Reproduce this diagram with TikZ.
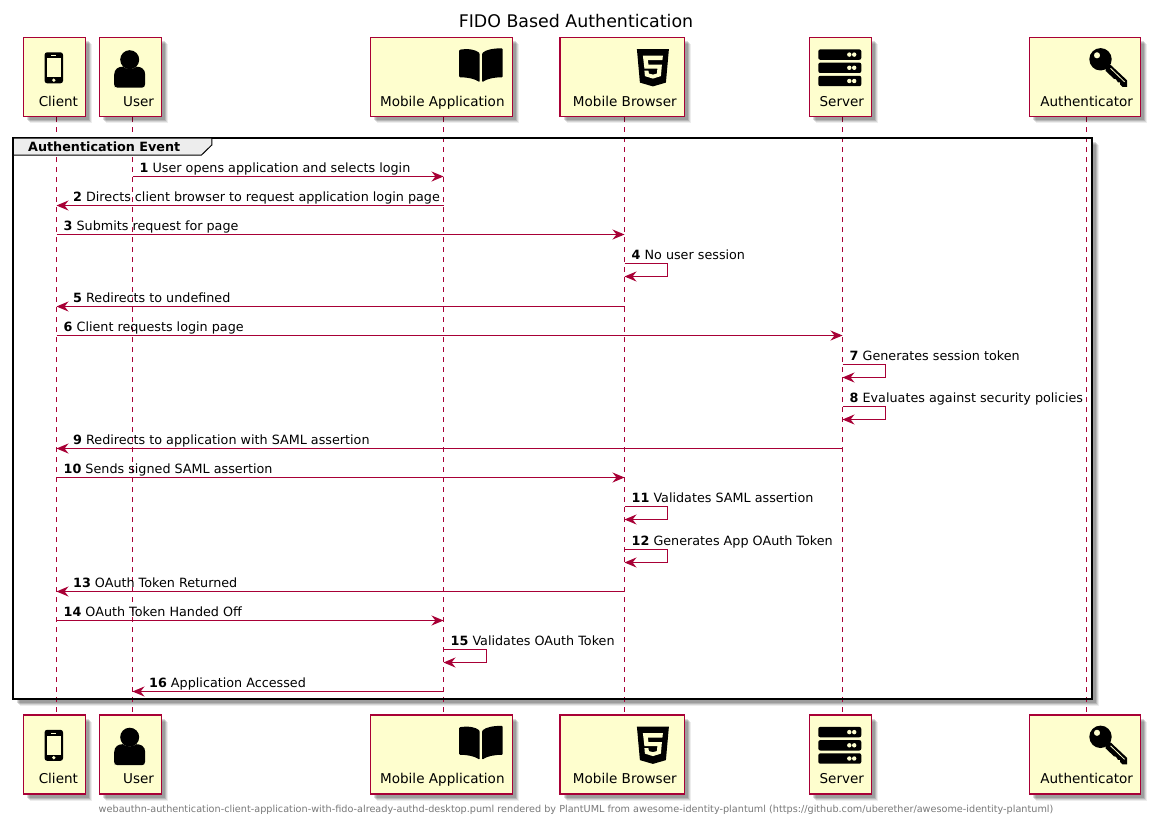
\documentclass[tikz,border=0pt]{standalone}
\usepackage{fontspec}
\setmainfont{DejaVu Sans}
\usetikzlibrary{arrows.meta,shadows}
\definecolor{seqline}{HTML}{A80036}
\definecolor{seqfill}{HTML}{FEFECE}
\tikzset{
	softshadow/.style={drop shadow={shadow xshift=6.5pt,shadow yshift=-6.5pt,fill=black,opacity=0.07},drop shadow={shadow xshift=5.5pt,shadow yshift=-5.5pt,fill=black,opacity=0.1},drop shadow={shadow xshift=4.5pt,shadow yshift=-4.5pt,fill=black,opacity=0.14},drop shadow={shadow xshift=3.5pt,shadow yshift=-3.5pt,fill=black,opacity=0.14}},
	actorbox/.style={draw=seqline,line width=1.5pt,fill=seqfill,softshadow,minimum height=79pt,inner xsep=0pt,inner ysep=7pt,text height=61.8pt,text depth=3.2pt,align=right,font=\fontsize{13.55pt}{15pt}\selectfont},
	lifeline/.style={draw=seqline,line width=1pt,dash pattern=on 5pt off 5pt},
	msgline/.style={draw=seqline,line width=1pt,-{Stealth[length=12pt,width=10pt,inset=4pt]}},
	msglabel/.style={anchor=base west,inner sep=0pt,font=\fontsize{12.75pt}{15pt}\selectfont}
}
\tikzset{
	phoneicon/.pic={
		\fill[black,rounded corners=2.5pt] (-9.2,-15.5) rectangle (9.2,15.5);
		\fill[seqfill] (-7.2,-9.5) rectangle (7.2,9.5);
		\fill[seqfill] (0,12.4) circle (1.8);
		\fill[seqfill] (-2.5,-12.6) rectangle (2.5,-11.9);
	},
	personicon/.pic={
		\fill[black] (0,-8) circle (9.5);
		\fill[black] (-15.5,20) -- (-15.5,7) .. controls (-15.5,1) and (-11,-1) .. (-7,-1) .. controls (-3,2) and (3,2) .. (7,-1) .. controls (11,-1) and (15.5,1) .. (15.5,7) -- (15.5,16) .. controls (15.5,19) and (14,20) .. (12,20) -- (-12,20) .. controls (-14,20) and (-15.5,19) .. (-15.5,16) -- cycle;
	},
	bookicon/.pic={
		\fill[black,rounded corners=1pt] (-21.8,-15.5) .. controls (-12,-17) and (-5,-15.5) .. (-1.2,-12) -- (-1.2,17) .. controls (-6,13.5) and (-13,12) .. (-21.8,12) -- cycle;
		\fill[black,rounded corners=1pt] (21.8,-17) .. controls (12,-17) and (5,-15.5) .. (1.2,-12) -- (1.2,17) .. controls (6,13.5) and (13,12) .. (21.8,12) -- cycle;
	},
	htmlicon/.pic={
		\fill[black] (-16,-18.5) -- (16,-18.5) -- (13,15) -- (0,18.8) -- (-13,15) -- cycle;
		\fill[seqfill] (-10,-12) -- (10,-12) -- (9.5,-7.5) -- (-5,-7.5) -- (-4.5,-3) -- (9,-3) -- (8,8.5) -- (0,11) -- (-8,8.5) -- (-8.5,3) -- (-4.5,3) -- (-4,6) -- (0,7) -- (4,6) -- (4.5,1) -- (-8.5,1) -- cycle;
	},
	servericon/.pic={
		\foreach \rowy in {-13.2,0,13.2}{
			\fill[black,rounded corners=2pt] (-21.5,\rowy-5.2) rectangle (21.5,\rowy+5.2);
			\fill[seqfill] (9.5,\rowy) circle (2.2);
			\fill[seqfill] (14.4,\rowy) circle (2.2);
		}
	},
	keyicon/.pic={
		\fill[black,even odd rule] (-8,-8.5) circle (11.2) (-11.5,-12.5) circle (3.2);
		\fill[black] (-2,-2) -- (2,-3) -- (18.5,12.5) -- (18.5,19) -- (14,19) -- (11.5,16.5) -- (11.5,14.5) -- (9.5,14.5) -- (7.5,11.5) -- (5.5,11) -- (-3,3) -- cycle;
		\draw[seqfill,line width=0.8pt] (2,0.5) -- (16,14);
	}
}
\newcommand{\sendright}[5]{% number, from, to, y, text
	\coordinate (m#1a) at (#2 |- 0,#4);
	\coordinate (m#1b) at (#3 |- 0,#4);
	\draw[msgline] (m#1a) -- (m#1b);
	\node[msglabel] (l#1) at ([shift={(7,-4.4)}]m#1a) {\textbf{#1} #5};
}
\newcommand{\sendleft}[5]{% number, from, to, y, text
	\coordinate (m#1a) at (#2 |- 0,#4);
	\coordinate (m#1b) at (#3 |- 0,#4);
	\draw[msgline] (m#1a) -- (m#1b);
	\node[msglabel] (l#1) at ([shift={(16.5,-4.4)}]m#1b) {\textbf{#1} #5};
}
\newcommand{\selfsend}[4]{% number, lifeline, y, text
	\coordinate (m#1a) at (#2 |- 0,#3);
	\coordinate (m#1b) at ([shift={(0,13)}]m#1a);
	\draw[msgline] (m#1a) -- ++(42.5,0) |- (m#1b);
	\node[msglabel] (l#1) at ([shift={(7,-4.4)}]m#1a) {\textbf{#1} #4};
}

\begin{document}
\begin{tikzpicture}[x=1pt,y=-1pt]
	\useasboundingbox (0,0) rectangle (1150,824);

	%%%%% TITLE %%%%%
	\node[font=\fontsize{17.4pt}{20pt}\selectfont,inner sep=0pt] (title) at (576,21) {FIDO Based Authentication};

	%%%%% GROUP BACK %%%%%
	\node[fill=white,softshadow,minimum width=1079pt,minimum height=561pt,inner sep=0pt] (groupback) at (552.8,418.7) {};

	%%%%% LIFELINES %%%%%
	\coordinate (client) at (56.5,0);
	\coordinate (user) at (132.5,0);
	\coordinate (mobileapp) at (443.5,0);
	\coordinate (browser) at (624.5,0);
	\coordinate (server) at (842.5,0);
	\coordinate (authn) at (1086.5,0);
	\foreach \who in {client,user,mobileapp,browser,server,authn}{
		\draw[lifeline] (\who |- 0,117) -- (\who |- 0,716);
	}

	%%%%% PARTICIPANTS %%%%%
	\foreach \where/\boxy in {top/77,bot/754.5}{
		\node[actorbox,minimum width=62.4pt] (client\where) at (54.5,\boxy) {\parbox[b]{47pt}{\raggedleft Client}};
		\node[actorbox,minimum width=62.4pt] (user\where) at (130.5,\boxy) {\parbox[b]{47pt}{\raggedleft User}};
		\node[actorbox,minimum width=142pt] (mobileapp\where) at (441.3,\boxy) {\parbox[b]{126.6pt}{\raggedleft Mobile Application}};
		\node[actorbox,minimum width=124.3pt] (browser\where) at (622.2,\boxy) {\parbox[b]{108.9pt}{\raggedleft Mobile Browser}};
		\node[actorbox,minimum width=62.4pt] (server\where) at (840.5,\boxy) {\parbox[b]{47pt}{\raggedleft Server}};
		\node[actorbox,minimum width=111.4pt] (authn\where) at (1085,\boxy) {\parbox[b]{96pt}{\raggedleft Authenticator}};
		\pic at ([shift={(-0.7,-9.2)}]client\where.center) {phoneicon};
		\pic at ([shift={(-0.8,-9.3)}]user\where.center) {personicon};
		\pic at ([shift={(39.6,-11.7)}]mobileapp\where.center) {bookicon};
		\pic at ([shift={(30.7,-9.4)}]browser\where.center) {htmlicon};
		\pic at ([shift={(-0.7,-9.2)}]server\where.center) {servericon};
		\pic at ([shift={(23.5,-9.2)}]authn\where.center) {keyicon};
	}

	%%%%% GROUP %%%%%
	\node[draw=black,line width=2pt,minimum width=1079pt,minimum height=561pt,inner sep=0pt] (eventgroup) at (552.8,418.7) {};
	\draw[fill=black!7,line width=1pt] (13.3,138.2) -- (211.8,138.2) -- (211.8,145) -- (201.5,155) -- (13.3,155) -- cycle;
	\node[msglabel] (grouplabel) at (28,151) {\textbf{Authentication Event}};

	%%%%% MESSAGES %%%%%
	\sendright{1}{user}{mobileapp}{176.5}{User opens application and selects login}
	\sendleft{2}{mobileapp}{client}{205.5}{Directs client browser to request application login page}
	\sendright{3}{client}{browser}{234.5}{Submits request for page}
	\selfsend{4}{browser}{263.5}{No user session}
	\sendleft{5}{browser}{client}{306.5}{Redirects to undefined}
	\sendright{6}{client}{server}{335.5}{Client requests login page}
	\selfsend{7}{server}{364.5}{Generates session token}
	\selfsend{8}{server}{406.5}{Evaluates against security policies}
	\sendleft{9}{server}{client}{448.5}{Redirects to application with SAML assertion}
	\sendright{10}{client}{browser}{477.5}{Sends signed SAML assertion}
	\selfsend{11}{browser}{506.5}{Validates SAML assertion}
	\selfsend{12}{browser}{549.5}{Generates App OAuth Token}
	\sendleft{13}{browser}{client}{591.5}{OAuth Token Returned}
	\sendright{14}{client}{mobileapp}{620.5}{OAuth Token Handed Off}
	\selfsend{15}{mobileapp}{649.5}{Validates OAuth Token}
	\sendleft{16}{mobileapp}{user}{691.5}{Application Accessed}

	%%%%% FOOTER %%%%%
	\node[font=\fontsize{9.68pt}{12pt}\selectfont,text=black!53,inner sep=0pt] (footer) at (576,809.5) {webauthn-authentication-client-application-with-fido-already-authd-desktop.puml rendered by PlantUML from awesome-identity-plantuml (https://github.com/uberether/awesome-identity-plantuml)};
\end{tikzpicture}
\end{document}
